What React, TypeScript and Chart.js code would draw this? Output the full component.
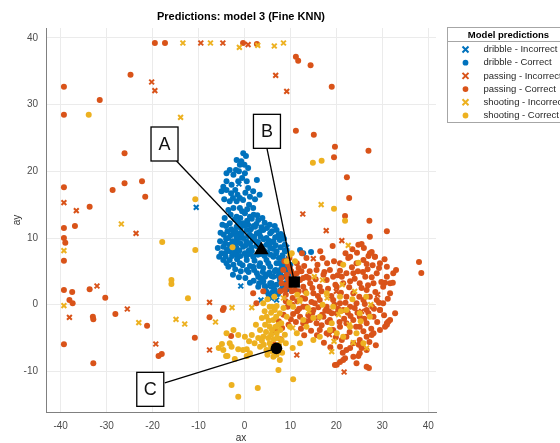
import React, { useEffect, useRef } from 'react';
import { Chart, registerables } from 'chart.js';

Chart.register(...registerables);

const chartTitle = 'Predictions: model 3 (Fine KNN)';
const legendTitle = 'Model predictions';
const xAxisTitle = 'ax';
const yAxisTitle = 'ay';
const xTicks = [-40, -30, -20, -10, 0, 10, 20, 30, 40];
const yTicks = [-10, 0, 10, 20, 30, 40];

const seriesNames = [
  'dribble - Incorrect',
  'dribble - Correct',
  'passing - Incorrect',
  'passing - Correct',
  'shooting - Incorrect',
  'shooting - Correct',
];
const seriesColors = ['#0072BD', '#0072BD', '#D95319', '#D95319', '#EDB120', '#EDB120'];
const seriesMarkers = ['crossRot', 'circle', 'crossRot', 'circle', 'crossRot', 'circle'];

const dribbleIncorrect: [number, number][] = [
  [-10.5, 14.6], [-1.2, 18.1], [-0.8, 2.8], [3.6, 0.7], [5.9, 0.96], [7.0, 0.7], [5.2, 2.7], [9.2, 8.6],
];

const dribbleCorrect: [number, number][] = [
  [-0.26, 22.7], [0.33, 22.3], [-1.7, 21.7], [-1.0, 21.0], [-1.85, 20.2], [-3.2, 20.2], [0.8, 20.5], [-2.4, 19.5],
  [-3.9, 19.7], [0.1, 19.7], [-1.35, 18.5], [-3.9, 18.5], [-4.6, 17.7], [-5.0, 17.0], [-3.9, 17.2], [0.5, 18.5],
  [2.7, 18.7], [0.8, 17.5], [1.9, 17.0], [1.2, 16.2], [-3.2, 15.5], [-1.7, 15.5], [-0.3, 15.7], [-1.0, 14.5],
  [-2.4, 14.5], [-1.7, 13.2], [0.1, 13.7], [1.9, 14.5], [1.2, 13.2], [3.0, 12.7], [2.3, 11.7],
  [-3.2, 12.2], [-1.7, 11.7], [-0.3, 12.2], [0.5, 11.2], [-1.0, 10.7], [-2.4, 10.7], [-3.5, 10.0], [-4.2, 9.2],
  [-3.2, 9.0], [-1.7, 9.7], [-0.3, 10.0], [1.2, 10.5], [2.7, 10.7], [4.1, 11.2], [5.6, 10.7], [7.0, 11.2],
  [4.8, 10.0], [6.3, 9.5], [7.7, 9.7], [1.2, 9.2], [-0.3, 8.7], [-1.7, 8.5], [-3.2, 8.0], [-4.2, 7.7],
  [-4.6, 6.7], [-3.2, 6.7], [-1.7, 7.5], [0.1, 7.7], [1.6, 8.0], [1.9, 7.2], [0.5, 6.7], [-1.0, 6.2],
  [-2.4, 6.0], [5.6, 8.5], [7.0, 8.0], [6.3, 7.2], [4.8, 6.7], [3.4, 6.2], [1.9, 5.7], [4.1, 5.5],
  [5.6, 5.7], [7.0, 6.2], [8.5, 6.7], [9.2, 8.0], [0.5, 5.2], [2.7, 4.7], [4.8, 4.5], [6.3, 4.2],
  [5.6, 3.2], [7.0, 3.0], [7.7, 3.7], [4.1, 3.5], [-4.6, 8.7], [-3.9, 6.2], [-5.0, 7.7],
  [4.5, 4.2], [5.9, 3.2], [6.6, 2.2], [4.8, 1.95], [3.0, 2.7], [7.4, 5.0], [8.5, 4.2], [8.8, 5.7], [7.7, 6.2],
  [-2.0, 11.0], [-0.8, 11.5], [0.8, 12.0], [2.0, 11.8], [3.5, 10.2], [4.8, 9.0], [3.0, 9.4], [1.8, 9.8],
  [0.4, 9.5], [-1.2, 10.0], [-2.6, 9.5], [-3.8, 8.3], [-2.2, 7.9], [-0.9, 7.3], [0.9, 8.1], [2.6, 8.8],
  [3.6, 7.6], [5.0, 7.8], [6.2, 8.4], [7.5, 7.0], [8.2, 6.0], [6.8, 5.2], [5.2, 6.2], [3.2, 5.8],
  [2.2, 6.6], [1.2, 5.8], [-0.4, 5.9], [-1.6, 6.8], [3.5, 4.0], [5.4, 4.8], [7.8, 4.8], [8.9, 3.2],
  [6.2, 2.6], [7.9, 2.2], [9.5, 4.5], [10.0, 6.0], [4.4, 12.3], [5.5, 12.0], [6.6, 11.8], [8.3, 10.3],
  [8.8, 9.0], [7.4, 10.4], [-1.5, 16.5], [0.2, 16.8], [-2.5, 16.0], [-0.5, 14.0], [1.0, 15.0], [2.3, 15.8],
  [3.3, 16.5], [-4.3, 13.0], [-3.7, 11.0], [-5.3, 9.5], [-5.8, 8.5], [-4.8, 12.0],
  [14.5, 7.9], [12.8, 7.7], [12.1, 8.2],
  [-3.0, 13.5], [-2.1, 12.8], [-0.9, 13.0], [0.6, 12.6], [1.6, 12.9], [2.8, 13.4], [3.9, 13.0], [-4.0, 11.8],
  [-2.9, 11.3], [-1.3, 12.3], [0.0, 11.9], [1.4, 11.3], [2.6, 12.1], [3.7, 11.6], [4.9, 11.5], [6.0, 11.0],
  [-4.5, 10.5], [-3.0, 10.4], [-1.8, 10.3], [-0.6, 10.6], [0.8, 10.3], [2.1, 10.2], [3.3, 10.9], [4.2, 9.8],
  [5.3, 9.6], [6.7, 10.1], [7.9, 10.6], [8.6, 9.9], [-5.2, 10.8], [-4.0, 9.9], [-2.0, 9.1], [-0.9, 9.2],
  [0.3, 8.9], [1.5, 8.6], [2.3, 9.6], [3.8, 8.7], [4.3, 8.1], [5.6, 9.2], [6.8, 8.9], [7.9, 8.6],
  [8.8, 8.1], [-5.5, 7.2], [-4.1, 7.2], [-2.7, 7.3], [-1.1, 8.1], [0.4, 7.3], [1.1, 7.6], [2.9, 7.5],
  [4.4, 7.3], [5.7, 7.5], [6.9, 7.7], [8.3, 7.4], [9.6, 7.0], [-3.5, 5.7], [-2.0, 5.3], [-0.8, 5.0],
  [0.9, 4.9], [2.1, 5.2], [3.0, 4.2], [4.0, 4.9], [5.9, 4.3], [6.6, 5.0], [7.4, 4.3], [8.0, 5.4],
  [9.0, 5.1], [2.0, 3.6], [3.2, 3.2], [4.4, 2.8], [6.0, 1.8], [7.3, 1.6], [5.3, 1.4], [8.3, 2.9],
  [9.3, 2.3], [-2.5, 4.5], [-1.2, 4.1], [0.2, 4.0], [1.2, 3.3],
  [-2.8, 18.0], [-2.0, 17.2], [-1.0, 16.0], [-2.9, 16.7], [-0.5, 19.0], [-1.2, 20.0], [-0.7, 21.5],
  [0.0, 21.0], [-4.4, 15.8], [-3.5, 14.2], [0.6, 14.3], [2.0, 13.5],
];

const passingIncorrect: [number, number][] = [
  [-9.5, 39.25], [-4.7, 39.25], [0.8, 39.0], [6.8, 34.4], [9.2, 32.0], [-20.2, 33.4], [-19.5, 32.1],
  [-39.3, 15.3], [-36.6, 14.1], [-23.6, 10.7], [-32.1, 2.8], [-38.1, -1.9], [-25.5, -0.65], [-7.6, 0.35],
  [-7.6, -6.8], [-19.3, -5.9], [12.7, 13.6], [17.8, 11.1], [21.2, 9.6], [15.0, 6.9], [11.4, -7.55],
  [21.7, -10.1], [16.0, -2.0], [20.0, 2.0], [25.5, -1.0], [29.0, 1.5], [18.5, -4.5],
];

const passingCorrect: [number, number][] = [
  [-19.5, 39.25], [-17.3, 39.25], [-0.3, 39.25], [2.7, 39.1], [11.2, 37.2], [11.7, 36.6], [14.4, 35.9],
  [19.0, 32.7], [-39.3, 32.7], [-39.3, 28.5], [-31.5, 30.7], [-24.8, 34.5], [11.2, 26.1], [15.1, 25.5],
  [-26.1, 22.7], [-39.3, 17.6], [-33.7, 14.7], [-28.7, 17.2], [-26.1, 18.2], [-22.3, 18.5], [-21.6, 16.2],
  [-39.3, 11.5], [-36.9, 11.8], [-39.3, 10.0], [-39.0, 9.3], [-39.3, 6.6], [-39.3, 2.2], [-37.5, 1.9],
  [-33.7, 2.3], [-38.1, 0.7], [-37.4, 0.2], [-33.0, -1.8], [-32.9, -2.2], [-30.3, 1.05], [-28.1, -1.4],
  [-21.2, -3.15], [-10.8, -4.95], [-4.7, -0.8], [-7.6, -1.9], [-18.7, -7.7], [-18.0, -7.4], [-39.3, -5.95],
  [-32.9, -8.8], [19.7, 23.7], [27.0, 23.1], [19.5, 22.1], [22.3, 19.1], [22.8, 16.0], [21.9, 13.3],
  [27.2, 12.6], [31.0, 11.0], [27.3, 10.2], [24.8, 9.0], [25.5, 9.1], [27.7, 7.9], [28.4, 7.2], [27.0, 7.3],
  [22.0, 7.7], [22.6, 7.0], [23.4, 5.6], [23.7, 4.7], [26.6, 6.1], [31.0, 5.7], [33.0, 5.2], [26.3, 4.2],
  [27.7, 4.1], [30.6, 3.3], [32.3, 3.3], [20.8, 5.1], [12.5, 7.7], [17.4, 4.9], [38.0, 6.4], [38.5, 4.75],
  [31.7, -2.3], [32.8, -1.3], [31.0, -3.0], [29.5, -0.8], [19.7, -9.05], [20.8, -8.6], [21.9, -8.05],
  [27.1, -9.5], [24.8, -7.7], [25.5, -6.5], [27.7, -4.55], [31.3, -2.55], [30.6, -3.3], [-2.9, -4.7],
  [8.45, 5.21], [9.18, 4.46], [9.9, 2.7], [8.8, 2.2], [8.1, 3.2], [11.4, 4.7], [12.1, 3.7], [11.0, 2.2],
  [12.8, 2.7], [13.5, 4.2], [14.3, 3.2], [15.0, 1.7], [16.4, 2.7], [17.2, 4.5], [17.9, 3.7], [18.6, 5.2],
  [19.3, 4.2], [15.7, 5.2], [20.1, 2.7], [21.5, 3.2], [22.2, 4.7], [20.8, 6.2], [23.0, 7.2], [24.4, 6.2],
  [25.9, 6.7], [27.3, 7.7], [28.4, 7.2], [29.5, 6.2], [28.8, 4.7], [31.0, 4.2], [31.7, 3.2], [32.4, 4.7],
  [30.2, 2.7], [28.1, 3.2], [26.6, 2.2], [25.1, 3.2], [23.7, 1.7], [22.2, 1.2], [20.8, 0.2], [19.3, 0.7],
  [17.9, -0.3], [16.4, 0.7], [15.0, -0.8], [13.5, -0.3], [12.1, -1.8], [12.8, -2.8], [14.3, -2.3],
  [15.7, -2.8], [17.2, -1.8], [18.6, -2.3], [20.1, -1.3], [21.5, -0.8], [23.0, -0.3], [24.4, 0.2],
  [25.9, 0.7], [27.3, 1.2], [28.8, 0.7], [26.6, -0.8], [25.1, -1.8], [23.7, -2.3], [22.2, -2.8],
  [20.8, -3.3], [19.3, -3.8], [17.9, -4.3], [16.4, -3.8], [25.1, -3.3], [26.6, -2.8], [28.1, -1.8],
  [29.5, -0.8], [30.2, 0.2], [31.7, 1.7], [31.0, -2.8], [29.5, -3.8], [28.1, -4.3], [26.6, -4.8],
  [25.1, -5.3], [23.7, -5.8], [22.2, -4.8], [20.8, -6.3], [22.2, -6.8], [23.7, -7.8], [25.1, -7.3],
  [26.6, -6.8], [21.5, -8.3], [20.1, -9.0], [24.4, -8.8], [26.6, -9.3], [1.9, 1.7], [4.1, 2.0], [2.6, 0.2],
  [-4.5, -0.5], [9.9, 5.5], [11.4, 6.2],
  [9.5, 6.0], [10.2, 5.0], [8.0, 4.0], [9.0, 1.5], [10.5, 1.0], [7.8, 2.0], [11.5, 0.5], [12.5, 1.0],
  [9.8, 7.0], [8.7, 6.5], [7.5, -2.5], [8.2, -3.5], [6.8, -4.0], [7.9, -5.2], [6.5, -6.0], [8.5, -1.5],
  [10.8, 4.5], [11.8, 5.5], [13.0, 5.8], [14.2, 5.0], [15.5, 3.8], [16.8, 2.0], [18.2, 2.4], [19.8, 3.0],
  [21.0, 1.8], [22.8, 2.6], [24.0, 3.9], [25.8, 4.9], [26.9, 2.9], [28.5, 1.9], [29.8, 3.4], [31.2, 0.9],
  [30.4, -1.6], [28.9, -2.6], [27.6, -3.6], [26.1, -2.1], [24.6, -1.2], [23.1, -1.7], [21.7, -2.1],
  [20.4, -0.6], [19.0, -1.3], [17.6, -0.9], [16.1, -0.4], [14.6, 0.4], [13.2, 0.9], [11.9, -0.6],
  [10.6, -1.4], [9.4, -0.3], [11.2, -2.6], [13.9, -1.6], [16.8, -3.1], [18.1, -2.6], [19.9, -4.9],
  [21.2, -5.3], [22.9, -4.1], [24.3, -3.3], [25.9, -4.0], [27.2, -5.6], [28.6, -6.1], [24.9, -6.0],
  [23.0, -6.5], [21.4, -7.2], [18.7, -6.4], [17.3, -5.7], [15.8, -4.6], [14.5, -3.9], [13.0, -4.6],
  [12.3, -3.6], [24.5, 7.8], [26.0, 8.5], [23.5, 8.3], [29.3, 5.5], [30.5, 6.8], [25.5, 2.5], [22.0, 0.3],
  [27.8, -0.3], [18.9, 1.3], [16.0, 1.3], [9.5, 3.8], [10.3, 2.0], [12.8, 4.0], [14.8, 2.5], [15.9, 6.0],
  [18.0, 6.2], [20.3, 4.4], [13.5, 7.0], [16.5, 8.0], [19.2, 8.8],
  [9.2, 3.0], [10.0, 3.5], [11.0, 3.0], [10.4, 0.0], [9.0, 0.5], [11.8, 2.0], [12.4, 5.0], [13.2, 2.0],
  [14.0, 4.0], [11.5, -1.0], [12.8, -0.3], [10.1, -2.2], [9.6, -3.0], [13.5, -2.5], [14.8, -1.2],
  [15.3, 0.2], [16.9, -1.5], [18.4, -1.0], [19.6, 0.0], [20.7, -2.6], [22.5, -1.2], [24.0, -0.5],
  [25.0, 1.2], [26.2, 0.1], [27.0, -1.3], [28.2, -0.6], [29.3, 0.3], [21.2, 4.2], [23.0, 3.5], [24.7, 5.0],
  [26.8, 5.3], [27.9, 5.9], [19.5, 6.5], [17.0, 7.0],
];

const shootingIncorrect: [number, number][] = [
  [-13.4, 39.25], [-7.4, 39.25], [-1.1, 38.6], [2.9, 38.9], [6.5, 38.8], [8.5, 39.25], [-13.9, 28.1],
  [-26.8, 12.1], [-39.3, 8.1], [-39.3, -0.15], [-23.0, -2.7], [-14.9, -2.2], [-13.0, -2.9], [-6.3, -2.6],
  [-2.7, -0.45], [1.6, -0.45], [16.7, 15.0], [22.6, 8.9], [15.2, 4.2], [17.0, 3.7], [21.3, 3.0],
  [19.0, -7.05], [23.7, -5.7], [26.6, -6.5], [8.5, 1.0], [12.0, 0.5], [14.0, -1.0], [18.0, 1.0],
  [20.5, -1.5], [24.0, 2.0], [27.5, 0.0], [10.5, -3.5], [19.5, -5.5], [22.8, -3.0],
];

const shootingCorrect: [number, number][] = [
  [-33.9, 28.5], [-17.9, 9.4], [-10.7, 15.8], [-10.7, 8.2], [-15.9, 3.7], [-15.9, 3.1], [-12.3, 0.95],
  [-5.6, -6.5], [-4.9, -5.9], [-4.0, -7.7], [14.9, 21.3], [16.8, 21.6], [19.5, 14.4], [21.9, 12.6],
  [11.0, 6.5], [21.5, 6.0], [24.8, 6.3], [-2.8, -12.05], [2.9, -12.5], [-1.35, -13.8], [7.4, -9.8],
  [10.6, -11.2], [9.9, 7.5], [9.2, 6.5], [-2.6, 8.6], [10.3, 7.7],
  [-1.35, -4.55], [0.1, -4.8], [1.6, -4.55], [3.0, -5.0], [-2.8, -6.3], [-1.35, -6.7], [-0.3, -6.8],
  [0.5, -6.7], [-3.7, -7.7], [-2.1, -8.15], [0.5, -7.7],
  [4.1, 0.2], [5.5, -0.3], [6.6, -0.8], [7.7, -1.3], [4.8, -1.8], [6.3, -2.3], [7.4, -3.0], [5.5, -3.3],
  [3.4, -3.8], [4.1, -4.8], [7.0, -4.3], [8.1, -5.3], [5.5, -5.8], [3.4, -6.3], [4.8, -6.8], [7.0, -6.8],
  [6.3, -7.8], [7.7, -8.3], [9.2, -1.8], [9.9, -3.3], [11.4, -4.3], [12.8, -2.3], [13.5, -3.3],
  [12.1, -5.8], [15.0, -5.3], [16.4, -4.8], [18.6, -3.8], [20.1, -4.3], [21.5, -4.8], [23.0, -3.3],
  [24.4, -4.3], [25.9, -5.8], [22.2, -0.8], [16.4, -1.8], [19.3, -0.3], [20.8, 1.2], [17.9, 1.7],
  [12.1, 0.7], [10.6, -0.3], [13.5, 1.7], [27.3, -1.8], [25.1, -1.3], [-3.9, -4.3], [-2.4, -3.8],
  [-3.2, -5.8], [1.2, -7.3], [-4.6, -6.8],
  [11.5, 1.5], [13.8, -0.5], [17.0, 0.0], [19.0, -2.8], [21.0, -1.0], [23.5, 0.8], [25.3, -2.5],
  [26.5, 1.2], [15.0, -2.0], [9.8, 0.3], [8.5, -0.5], [6.5, 1.2], [5.8, -1.2], [8.0, -2.8], [6.0, -3.8],
  [8.8, -4.5], [5.2, -5.0], [7.5, -6.0], [6.0, -7.0], [8.2, -7.2], [4.2, -6.0], [2.5, -3.0], [3.8, -2.0],
  [9.0, -5.8], [10.5, -6.5],
  [5.0, 0.8], [6.0, -0.3], [7.0, -0.2], [4.4, -1.0], [6.9, -1.8], [5.3, -2.4], [4.5, -3.0], [6.8, -3.3],
  [7.8, -3.8], [5.8, -4.5], [4.7, -4.1], [6.4, -5.2], [7.2, -5.0], [3.8, -5.4], [5.8, -6.3], [7.0, -7.5],
  [5.0, -7.5], [2.2, -5.8], [1.0, -5.5],
];

const seriesData = [
  dribbleIncorrect, dribbleCorrect, passingIncorrect, passingCorrect, shootingIncorrect, shootingCorrect,
];

// Annotated highlight points (A: triangle, B: square, C: circle)
const annotationLabels = ['A', 'B', 'C'];
const annotationTargetX = [3.66, 10.85, 6.97];
const annotationTargetY = [8.2, 3.4, -6.55];
const annotationTargetStyle = ['triangle', 'rect', 'circle'];
const annotationBoxX = [-17.4, 4.9, -20.5];
const annotationBoxY = [24.1, 26.0, -12.7];

const FONT = '"Liberation Sans", Arial, Helvetica, sans-serif';

const decorPlugin = {
  id: 'decor',
  afterDatasetsDraw(chart: any) {
    const { ctx, scales } = chart;
    const xs = scales.x;
    const ys = scales.y;
    const bw = 27;
    const bh = 34;
    const anchors = [[12, 17], [0, 17], [14.5, -6.5]];
    ctx.save();
    annotationLabels.forEach((lab, i) => {
      const cx = xs.getPixelForValue(annotationBoxX[i]);
      const cy = ys.getPixelForValue(annotationBoxY[i]);
      const tx = xs.getPixelForValue(annotationTargetX[i]);
      const ty = ys.getPixelForValue(annotationTargetY[i]);
      ctx.strokeStyle = '#000';
      ctx.lineWidth = 1.3;
      ctx.beginPath();
      ctx.moveTo(cx + anchors[i][0], cy + anchors[i][1]);
      ctx.lineTo(tx, ty);
      ctx.stroke();
      ctx.fillStyle = '#fff';
      ctx.fillRect(cx - bw / 2, cy - bh / 2, bw, bh);
      ctx.strokeRect(cx - bw / 2, cy - bh / 2, bw, bh);
      ctx.fillStyle = '#111';
      ctx.font = '18px ' + FONT;
      ctx.textAlign = 'center';
      ctx.textBaseline = 'middle';
      ctx.fillText(lab, cx, cy + 1);
    });
    ctx.restore();
  },
  afterDraw(chart: any) {
    const { ctx, chartArea } = chart;
    ctx.save();
    ctx.fillStyle = '#000';
    ctx.font = 'bold 11px ' + FONT;
    ctx.textAlign = 'center';
    ctx.textBaseline = 'middle';
    ctx.fillText(chartTitle, (chartArea.left + chartArea.right) / 2, 17);

    const lx = 447.5;
    const ly = 27.5;
    const lw = 130;
    const lh = 95;
    ctx.fillStyle = '#fff';
    ctx.fillRect(lx, ly, lw, lh);
    ctx.strokeStyle = '#a6a6a6';
    ctx.lineWidth = 1;
    ctx.strokeRect(lx, ly, lw, lh);
    ctx.beginPath();
    ctx.moveTo(lx, ly + 14);
    ctx.lineTo(lx + lw, ly + 14);
    ctx.stroke();
    ctx.fillStyle = '#000';
    ctx.font = 'bold 9.5px ' + FONT;
    ctx.textAlign = 'center';
    ctx.fillText(legendTitle, lx + 61, ly + 7.5);
    ctx.font = '9.5px ' + FONT;
    ctx.textAlign = 'left';
    seriesNames.forEach((name, i) => {
      const yy = ly + 22 + i * 13.2;
      const mx = lx + 18;
      const col = seriesColors[i];
      if (seriesMarkers[i] === 'crossRot') {
        ctx.strokeStyle = col;
        ctx.lineWidth = 2;
        ctx.beginPath();
        ctx.moveTo(mx - 3, yy - 3);
        ctx.lineTo(mx + 3, yy + 3);
        ctx.moveTo(mx + 3, yy - 3);
        ctx.lineTo(mx - 3, yy + 3);
        ctx.stroke();
      } else {
        ctx.fillStyle = col;
        ctx.beginPath();
        ctx.arc(mx, yy, 2.9, 0, Math.PI * 2);
        ctx.fill();
      }
      ctx.fillStyle = '#262626';
      ctx.fillText(name, lx + 36, yy);
    });
    ctx.restore();
  },
};

export default function App() {
  const canvasRef = useRef<HTMLCanvasElement | null>(null);

  useEffect(() => {
    if (!canvasRef.current) return;
    const datasets: any[] = seriesData.map((pts, i) => {
      const isCross = seriesMarkers[i] === 'crossRot';
      return {
        label: seriesNames[i],
        data: pts.map(([x, y]) => ({ x, y })),
        pointStyle: seriesMarkers[i],
        pointRadius: isCross ? 3.4 : 3.0,
        pointBorderWidth: isCross ? 2 : 0,
        borderColor: seriesColors[i],
        backgroundColor: seriesColors[i],
        order: 10 - i,
      };
    });
    annotationLabels.forEach((lab, i) => {
      datasets.push({
        label: 'marker ' + lab,
        data: [{ x: annotationTargetX[i], y: annotationTargetY[i] }],
        pointStyle: annotationTargetStyle[i],
        pointRadius: annotationTargetStyle[i] === 'triangle' ? 8.5 : annotationTargetStyle[i] === 'rect' ? 8 : 5.8,
        pointBorderWidth: 0,
        borderColor: '#000',
        backgroundColor: '#000',
        order: 0,
      });
    });

    const chart = new Chart(canvasRef.current, {
      type: 'scatter',
      data: { datasets },
      options: {
        responsive: false,
        animation: false,
        layout: { padding: { left: 0, right: 124, top: 28, bottom: 0 } },
        plugins: {
          legend: { display: false },
          title: { display: false },
          tooltip: { enabled: false },
        },
        scales: {
          x: {
            type: 'linear',
            min: -43.2,
            max: 41.7,
            afterBuildTicks: (s: any) => {
              s.ticks = xTicks.map((v) => ({ value: v }));
            },
            afterFit: (s: any) => {
              s.height = 40;
            },
            ticks: {
              color: '#4d4d4d',
              font: { size: 10, family: FONT },
              padding: 8,
              callback: (v: any) => String(v),
            },
            grid: { color: '#ebebeb', lineWidth: 1, drawTicks: false },
            border: { display: true, color: '#808080', width: 1 },
            title: {
              display: true,
              text: xAxisTitle,
              color: '#333',
              font: { size: 10, family: FONT },
              padding: { top: 0, bottom: 8 },
            },
          },
          y: {
            type: 'linear',
            min: -16.1,
            max: 41.5,
            afterBuildTicks: (s: any) => {
              s.ticks = yTicks.map((v) => ({ value: v }));
            },
            afterFit: (s: any) => {
              s.width = 46;
            },
            ticks: {
              color: '#4d4d4d',
              font: { size: 10, family: FONT },
              padding: 8,
              callback: (v: any) => String(v),
            },
            grid: { color: '#ebebeb', lineWidth: 1, drawTicks: false },
            border: { display: true, color: '#808080', width: 1 },
            title: {
              display: true,
              text: yAxisTitle,
              color: '#333',
              font: { size: 10, family: FONT },
              padding: { top: 11, bottom: 0 },
            },
          },
        },
      },
      plugins: [decorPlugin],
    });
    return () => chart.destroy();
  }, []);

  return (
    <div
      style={{
        position: 'fixed',
        left: 0,
        top: 0,
        width: 560,
        height: 443,
        overflow: 'hidden',
        background: '#fff',
      }}
    >
      <canvas ref={canvasRef} width={560} height={452} style={{ display: 'block' }} />
    </div>
  );
}
